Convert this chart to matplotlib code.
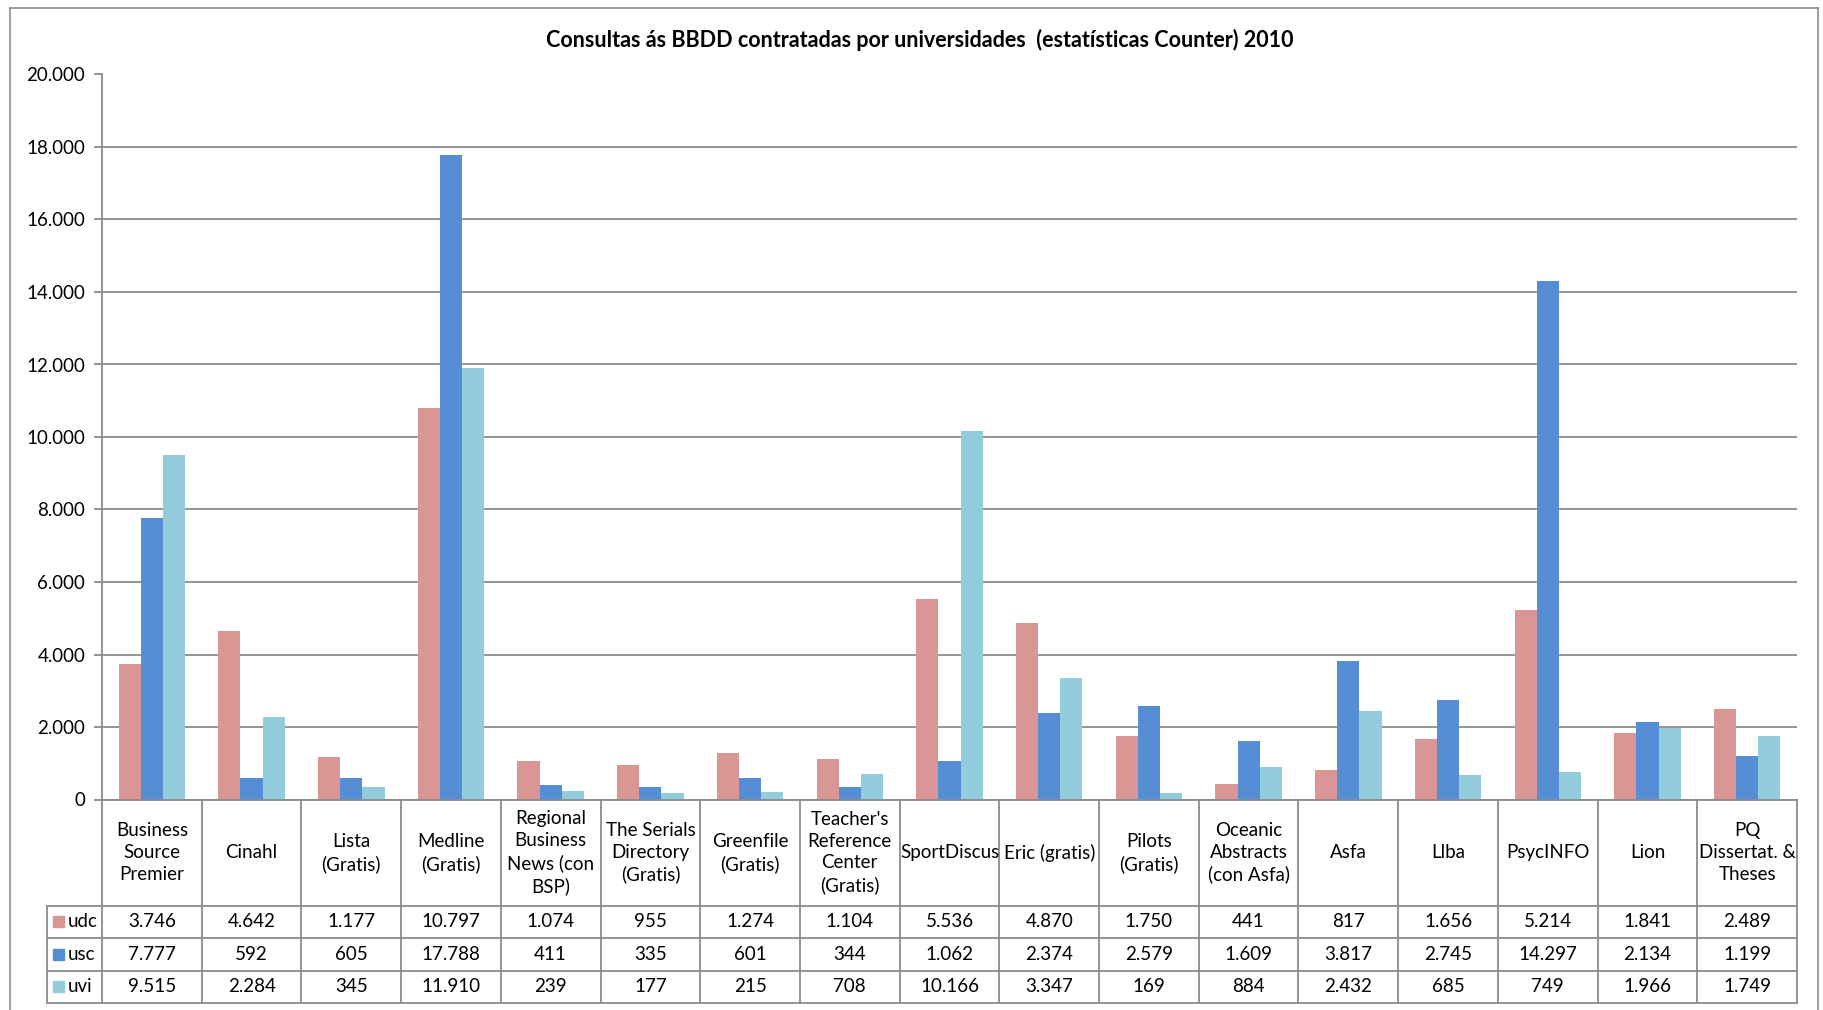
import matplotlib.pyplot as plt
from matplotlib.lines import Line2D
from matplotlib.patches import Rectangle
import numpy as np

plt.rcParams['font.family'] = ['Lato', 'DejaVu Sans']

categories = ["Business\nSource\nPremier", "Cinahl", "Lista\n(Gratis)", "Medline\n(Gratis)",
              "Regional\nBusiness\nNews (con\nBSP)", "The Serials\nDirectory\n(Gratis)",
              "Greenfile\n(Gratis)", "Teacher's\nReference\nCenter\n(Gratis)", "SportDiscus",
              "Eric (gratis)", "Pilots\n(Gratis)", "Oceanic\nAbstracts\n(con Asfa)", "Asfa",
              "Llba", "PsycINFO", "Lion", "PQ\nDissertat. &\nTheses"]
udc = [3746, 4642, 1177, 10797, 1074, 955, 1274, 1104, 5536, 4870, 1750, 441, 817, 1656, 5214, 1841, 2489]
usc = [7777, 592, 605, 17788, 411, 335, 601, 344, 1062, 2374, 2579, 1609, 3817, 2745, 14297, 2134, 1199]
uvi = [9515, 2284, 345, 11910, 239, 177, 215, 708, 10166, 3347, 169, 884, 2432, 685, 749, 1966, 1749]
series_names = ["udc", "usc", "uvi"]
colors = ["#D99694", "#558ED5", "#93CDDD"]
yticks = list(range(0, 20001, 2000))

W, H = 1823, 1010
GRID = "#8C8C8C"
FS = 13.5


def fx(px):
    return px / W


def fy(py):
    return 1 - py / H


def fmt(v):
    return f"{v:,}".replace(",", ".")


fig = plt.figure(figsize=(W / 100, H / 100), dpi=100)

# outer chart frame
fig.add_artist(Line2D([fx(10), fx(10)], [fy(8), 0], color=GRID, lw=1.2))
fig.add_artist(Line2D([fx(10), fx(1818)], [fy(8), fy(8)], color=GRID, lw=1.2))
fig.add_artist(Line2D([fx(1818), fx(1818)], [fy(8), 0], color=GRID, lw=1.2))

fig.text(fx(920), fy(40), "Consultas ás BBDD contratadas por universidades  (estatísticas Counter) 2010",
         ha="center", va="center", fontsize=15.5, fontweight="bold")

# bars
L, R, T, B = 102, 1797, 74.5, 799.5
ax = fig.add_axes([fx(L), fy(B), fx(R) - fx(L), fy(T) - fy(B)])
n = len(categories)
x = np.arange(n)
bw = 1 / 4.5
for i, (vals, c) in enumerate(zip([udc, usc, uvi], colors)):
    ax.bar(x + (i - 1) * bw, vals, width=bw, color=c, zorder=3)
ax.set_xlim(-0.5, n - 0.5)
ax.set_ylim(0, 20000)
ax.set_yticks(yticks)
ax.set_yticklabels([fmt(v) for v in yticks], fontsize=FS)
ax.set_xticks([])
ax.yaxis.grid(True, color=GRID, lw=1.3, zorder=0)
for s in ["top", "right", "bottom"]:
    ax.spines[s].set_visible(False)
ax.spines["left"].set_color(GRID)
ax.spines["left"].set_linewidth(1.3)
ax.tick_params(axis="y", length=6, color=GRID, width=1.3, pad=6)

# data table
TL, TT, TB = 47, 799.5, 1003
leg_w = (L - TL) / ((R - L) / n)
tx = fig.add_axes([fx(TL), fy(TB), fx(R) - fx(TL), fy(TT) - fy(TB)])
tx.set_xlim(-0.5 - leg_w, n - 0.5)
row_h = [106.5, 32.5, 32.5, 32.5]
edges = np.concatenate([[0], np.cumsum(row_h)])
tx.set_ylim(edges[-1], 0)
tx.axis("off")
lk = dict(color=GRID, lw=1.3, clip_on=False)
for k in range(n + 1):
    tx.plot([k - 0.5, k - 0.5], [0, edges[-1]], **lk)
for e in edges:
    x0 = -0.5 if e == 0 else -0.5 - leg_w
    tx.plot([x0, n - 0.5], [e, e], **lk)
tx.plot([-0.5 - leg_w, -0.5 - leg_w], [edges[1], edges[-1]], **lk)
for k, name in enumerate(categories):
    tx.text(k, edges[1] / 2, name, ha="center", va="center", fontsize=FS, linespacing=1.35)
px_unit = (R - L) / n
for r, (vals, name, c) in enumerate(zip([udc, usc, uvi], series_names, colors)):
    yc = (edges[r + 1] + edges[r + 2]) / 2
    for k, v in enumerate(vals):
        tx.text(k, yc, fmt(v), ha="center", va="center", fontsize=FS)
    tx.add_patch(Rectangle((-0.5 - leg_w + 6 / px_unit, yc - 5.5), 11 / px_unit, 11, color=c, clip_on=False))
    tx.text(-0.5 - leg_w + 21 / px_unit, yc, name, ha="left", va="center", fontsize=FS)

fig.savefig("out.png", dpi=100)
